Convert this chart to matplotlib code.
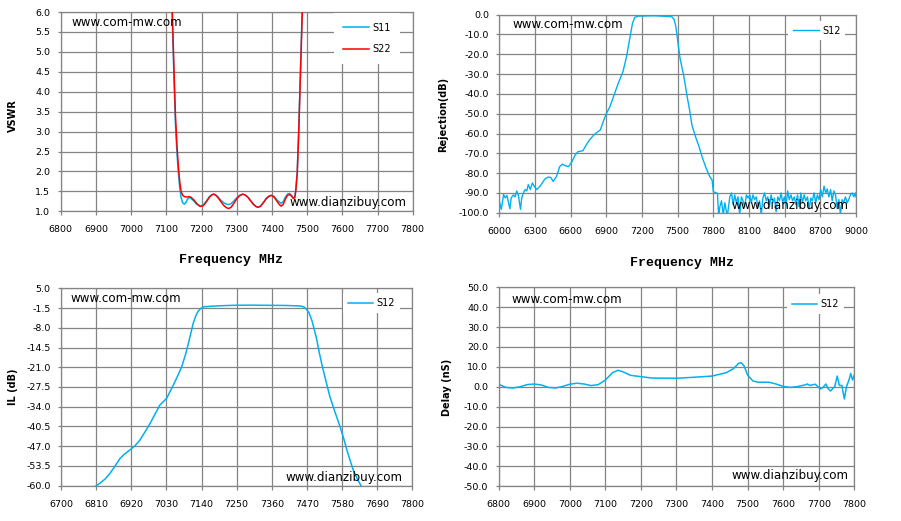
import matplotlib
matplotlib.use("Agg")
import matplotlib.pyplot as plt
import numpy as np

# ---------------- data ----------------
# VSWR chart
vswr_f11 = [7112, 7115, 7118, 7122, 7126, 7130, 7134, 7138, 7142, 7146, 7151, 7156, 7160, 7165,
            7170, 7178, 7186, 7196, 7205, 7214, 7222, 7229, 7234, 7240, 7248, 7256, 7264, 7271,
            7277, 7284, 7292, 7300, 7308, 7317, 7324, 7332, 7340, 7348, 7355, 7361, 7368, 7376,
            7384, 7392, 7399, 7406, 7413, 7420, 7426, 7432, 7438, 7444, 7450, 7456, 7461, 7465,
            7468, 7472, 7476, 7480, 7484, 7487, 7490]
vswr_s11 = [7.5, 6.5, 5.5, 4.3, 3.2, 2.5, 2.0, 1.6, 1.35, 1.22, 1.18, 1.22, 1.30, 1.35,
            1.33, 1.26, 1.18, 1.13, 1.16, 1.26, 1.36, 1.41, 1.43, 1.41, 1.35, 1.27, 1.21, 1.18,
            1.17, 1.19, 1.26, 1.34, 1.40, 1.43, 1.41, 1.35, 1.26, 1.17, 1.12, 1.10, 1.13, 1.22,
            1.32, 1.38, 1.40, 1.37, 1.30, 1.24, 1.20, 1.24, 1.35, 1.43, 1.45, 1.40, 1.33, 1.36,
            1.55, 2.0, 3.0, 4.2, 5.4, 6.3, 7.2]
vswr_f22 = [7112, 7115, 7118, 7122, 7126, 7130, 7134, 7138, 7142, 7146, 7151, 7156, 7160, 7165,
            7170, 7178, 7186, 7196, 7205, 7214, 7222, 7229, 7234, 7240, 7248, 7256, 7264, 7271,
            7277, 7284, 7292, 7300, 7308, 7317, 7324, 7332, 7340, 7348, 7355, 7361, 7368, 7376,
            7384, 7392, 7399, 7406, 7413, 7420, 7426, 7432, 7438, 7444, 7450, 7456, 7461, 7465,
            7468, 7472, 7476, 7480, 7484, 7487, 7490]
vswr_s22 = [7.5, 6.6, 5.7, 4.5, 3.4, 2.7, 2.15, 1.75, 1.50, 1.41, 1.37, 1.36, 1.36, 1.37,
            1.35, 1.29, 1.20, 1.12, 1.14, 1.24, 1.35, 1.41, 1.43, 1.41, 1.33, 1.23, 1.14, 1.09,
            1.07, 1.10, 1.20, 1.31, 1.39, 1.43, 1.41, 1.35, 1.26, 1.17, 1.12, 1.10, 1.13, 1.22,
            1.32, 1.38, 1.40, 1.36, 1.27, 1.18, 1.13, 1.17, 1.30, 1.40, 1.42, 1.38, 1.32, 1.34,
            1.52, 1.95, 2.9, 4.1, 5.3, 6.2, 7.2]
vswr_xticks = list(range(6800, 7801, 100))
vswr_yticks = [1.0, 1.5, 2.0, 2.5, 3.0, 3.5, 4.0, 4.5, 5.0, 5.5, 6.0]

# Rejection chart
rej_f = [6000, 6017, 6036, 6050, 6064, 6078, 6089, 6100, 6119, 6133, 6147, 6161, 6178, 6189,
         6203, 6217, 6231, 6244, 6261, 6278, 6294, 6314, 6342, 6383, 6411, 6433, 6453, 6481,
         6508, 6531, 6556, 6583, 6611, 6639, 6661, 6703, 6731, 6758, 6800, 6850, 6880, 6900,
         6930, 6960, 7000, 7040, 7070, 7100, 7120, 7140, 7170, 7300, 7450, 7470, 7485, 7500,
         7520, 7550, 7580, 7600, 7620, 7650, 7680, 7710, 7740, 7770, 7790, 7800, 7820, 7835,
         7845, 7855, 7869, 7883, 7897, 7917, 7939, 7953, 7967, 7980, 7994, 8008, 8022, 8036,
         8050, 8064, 8078, 8092, 8106, 8119, 8133, 8147, 8161, 8175, 8189, 8203, 8217, 8231,
         8245, 8258, 8272, 8286, 8300, 8314, 8328, 8342, 8356, 8370, 8383, 8397, 8411, 8425,
         8439, 8453, 8467, 8481, 8495, 8508, 8522, 8536, 8550, 8564, 8578, 8592, 8606, 8620,
         8633, 8647, 8661, 8675, 8689, 8703, 8717, 8731, 8745, 8758, 8772, 8786, 8800, 8814,
         8828, 8842, 8856, 8869, 8883, 8897, 8911, 8925, 8939, 8953, 8967, 8981, 8995, 9000]
rej_s12 = [-94.2, -98.3, -90.8, -92.5, -91.3, -95.0, -98.0, -92.5, -91.0, -92.0, -89.0, -91.3, -98.3, -92.5,
           -90.0, -88.3, -89.0, -85.8, -88.3, -85.0, -86.7, -88.3, -86.7, -83.0, -82.0, -82.2, -84.2, -81.7,
           -76.7, -75.5, -76.3, -76.7, -74.2, -70.8, -69.2, -68.7, -65.8, -63.3, -60.4, -58.2, -53.0, -50.0,
           -46.5, -41.4, -34.7, -28.8, -21.2, -11.0, -4.4, -1.3, -0.7, -0.5, -1.0, -2.4, -6.0, -12.8,
           -22.0, -30.5, -41.4, -48.0, -55.7, -61.6, -66.7, -72.6, -77.6, -81.8, -83.5, -89.4, -89.9, -90.2,
           -102.0, -97.0, -94.0, -101.0, -95.0, -102.0, -92.0, -90.0, -96.0, -91.0, -95.0, -92.0, -101.0, -92.0,
           -94.0, -97.0, -91.0, -92.6, -91.0, -95.0, -91.0, -93.4, -92.0, -97.0, -94.0, -101.0, -92.6, -90.0,
           -94.0, -92.0, -97.0, -91.0, -95.0, -92.6, -99.5, -92.0, -94.0, -90.0, -95.0, -92.0, -97.0, -89.0,
           -93.4, -91.0, -94.0, -92.0, -96.0, -91.0, -97.0, -90.0, -95.0, -91.0, -94.0, -92.0, -98.0, -92.6,
           -94.0, -90.0, -95.0, -91.0, -93.4, -88.3, -92.0, -86.6, -90.0, -88.0, -92.0, -88.3, -94.0, -89.0,
           -91.0, -98.0, -93.4, -101.0, -93.4, -95.0, -92.0, -95.0, -93.4, -91.0, -90.0, -92.0, -90.0, -92.0]
rej_xticks = list(range(6000, 9001, 300))
rej_yticks = list(range(-100, 1, 10))

# Insertion loss chart
il_f = [6810, 6822, 6838, 6853, 6870, 6885, 6900, 6916, 6932, 6947, 6963, 6979, 6995, 7010,
        7031, 7052, 7065, 7078, 7090, 7099, 7107, 7114, 7122, 7130, 7138, 7146, 7170, 7200,
        7240, 7290, 7344, 7400, 7448, 7460, 7469, 7477, 7485, 7493, 7501, 7508, 7516, 7529,
        7542, 7558, 7574, 7585, 7595, 7605, 7615, 7628, 7641]
il_s12 = [-60.0, -59.2, -57.8, -56.0, -53.4, -51.0, -49.5, -48.2, -46.8, -45.0, -42.3, -39.5, -36.3, -33.4,
          -31.2, -26.8, -23.9, -20.8, -16.8, -13.1, -9.6, -6.5, -4.1, -2.5, -1.6, -1.1, -0.9, -0.75,
          -0.6, -0.55, -0.6, -0.65, -0.8, -1.1, -1.9, -3.2, -5.4, -8.5, -12.0, -15.8, -19.7, -25.3,
          -30.7, -35.8, -40.6, -44.4, -48.2, -51.6, -54.8, -57.8, -60.3]
il_xticks = list(range(6700, 7801, 110))
il_yticks = [5.0, -1.5, -8.0, -14.5, -21.0, -27.5, -34.0, -40.5, -47.0, -53.5, -60.0]

# Group delay chart
gd_f = [6800, 6805, 6820, 6840, 6860, 6880, 6900, 6920, 6940, 6960, 6980, 7000, 7020, 7040,
        7060, 7080, 7100, 7120, 7135, 7150, 7170, 7200, 7230, 7300, 7350, 7400, 7440, 7460,
        7475, 7482, 7490, 7500, 7515, 7530, 7560, 7580, 7600, 7620, 7640, 7660, 7668, 7675,
        7690, 7700, 7705, 7712, 7720, 7727, 7733, 7740, 7745, 7752, 7758, 7765, 7772, 7778,
        7785, 7790, 7795, 7800]
gd_s12 = [0.6, 0.9, -0.3, -0.6, 0.0, 1.1, 1.4, 0.9, -0.3, -0.6, 0.2, 1.3, 1.8, 1.4,
          0.6, 1.1, 3.4, 7.1, 8.3, 7.5, 5.8, 5.1, 4.4, 4.3, 4.8, 5.4, 7.1, 9.1,
          11.8, 12.1, 10.5, 5.9, 2.9, 2.3, 2.3, 1.4, 0.2, -0.3, 0.1, 0.9, 1.4, 0.7,
          1.3, -0.3, -1.1, -0.3, 1.4, -1.1, -2.1, -0.8, 0.1, 5.4, 0.7, 0.7, -6.1, 0.1,
          3.4, 6.7, 3.4, 5.9]
gd_xticks = list(range(6800, 7801, 100))
gd_yticks = list(range(-50, 51, 10))

# ---------------- styling ----------------
BLUE = "#00b0f0"
RED = "#ff0000"
GRID = "#848484"
TICKFONT = "DejaVu Sans"
TS = 6.8

fig = plt.figure(figsize=(9.01, 5.21), dpi=100)
W, H = 901.0, 521.0


def make_ax(x0, x1, y0, y1):
    return fig.add_axes([x0 / W, 1 - y1 / H, (x1 - x0) / W, (y1 - y0) / H])


def style(ax, xticks, yticks, yfmt):
    ax.set_xlim(xticks[0], xticks[-1])
    ax.set_ylim(min(yticks), max(yticks))
    ax.set_xticks(xticks)
    ax.set_yticks(yticks)
    ax.set_xticklabels([str(t) for t in xticks], fontsize=TS, family=TICKFONT)
    ax.set_yticklabels([yfmt.format(t) for t in yticks], fontsize=TS, family=TICKFONT)
    ax.grid(True, color=GRID, lw=0.9)
    ax.set_axisbelow(True)
    for s in ax.spines.values():
        s.set_color(GRID)
        s.set_linewidth(0.9)
    ax.tick_params(axis="x", length=3, width=0.9, color=GRID, pad=7)
    ax.tick_params(axis="y", length=2, width=0.9, color=GRID, pad=5.5)


def marks(ax, xl, yl, xr, yr):
    ax.text(xl, yl, "www.com-mw.com", transform=ax.transAxes, ha="left", va="center",
            fontsize=8.6, family=TICKFONT, zorder=5)
    ax.text(xr, yr, "www.dianzibuy.com", transform=ax.transAxes, ha="right", va="center",
            fontsize=8.6, family=TICKFONT, zorder=5)


def legend(ax, anchor, spacing=0.5, bpad=0.5):
    lg = ax.legend(loc="upper right", bbox_to_anchor=anchor, frameon=True, fancybox=False,
                   edgecolor="none", facecolor="white", framealpha=1.0,
                   prop={"family": TICKFONT, "size": 7}, handlelength=2.6,
                   handletextpad=0.35, labelspacing=spacing, borderpad=bpad,
                   borderaxespad=0)
    lg.set_zorder(4)
    return lg


# --- VSWR ---
ax1 = make_ax(60.7, 412.7, 12.0, 211.3)
style(ax1, vswr_xticks, vswr_yticks, "{:.1f}")
ax1.plot(vswr_f11, vswr_s11, color=BLUE, lw=1.1, label="S11", zorder=3)
ax1.plot(vswr_f22, vswr_s22, color=RED, lw=1.1, label="S22", zorder=3)
legend(ax1, (0.965, 0.995), spacing=1.2, bpad=1.0)
marks(ax1, 0.032, 0.946, 0.981, 0.042)

# --- Rejection ---
ax2 = make_ax(499.3, 856.0, 14.7, 212.7)
style(ax2, rej_xticks, rej_yticks, "{:.1f}")
ax2.plot(rej_f, rej_s12, color=BLUE, lw=1.0, label="S12", zorder=3)
legend(ax2, (0.97, 0.97))
marks(ax2, 0.036, 0.948, 0.980, 0.034)

# --- IL ---
ax3 = make_ax(61.0, 412.3, 288.3, 485.7)
style(ax3, il_xticks, il_yticks, "{:.1f}")
ax3.plot(il_f, il_s12, color=BLUE, lw=1.1, label="S12", zorder=3)
legend(ax3, (0.965, 0.975))
marks(ax3, 0.028, 0.946, 0.9735, 0.044)

# --- Delay ---
ax4 = make_ax(498.7, 854.3, 287.3, 486.3)
style(ax4, gd_xticks, gd_yticks, "{:.1f}")
ax4.plot(gd_f, gd_s12, color=BLUE, lw=1.1, label="S12", zorder=3)
legend(ax4, (0.97, 0.965))
marks(ax4, 0.037, 0.941, 0.985, 0.052)

# axis titles
LB = dict(fontsize=7, family=TICKFONT, fontweight="bold", ha="center", va="center", rotation=90)
fig.text(13.3 / W, 1 - 116 / H, "VSWR", **LB)
fig.text(443 / W, 1 - 114 / H, "Rejection(dB)", **LB)
fig.text(13 / W, 1 - 387 / H, "IL (dB)", **LB)
fig.text(447 / W, 1 - 387 / H, "Delay (nS)", **LB)

FQ = dict(fontsize=9.5, family="Liberation Mono", fontweight="bold", ha="center", va="center")
fig.text(231 / W, 1 - 260 / H, "Frequency MHz", **FQ)
fig.text(682 / W, 1 - 263 / H, "Frequency MHz", **FQ)

fig.savefig("out.png", dpi=100, facecolor="white")
